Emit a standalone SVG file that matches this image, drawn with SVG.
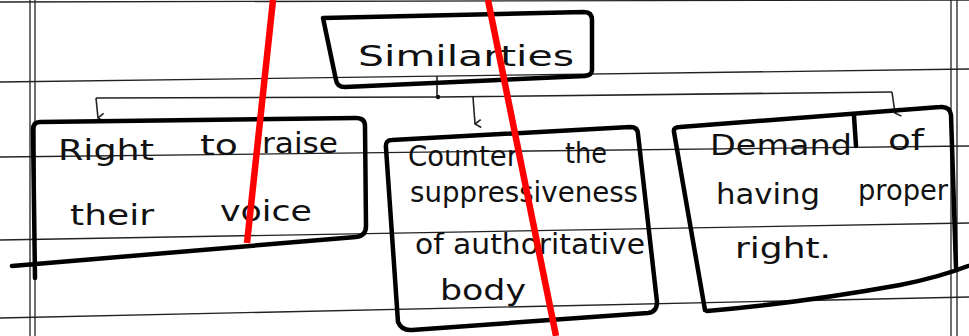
<svg xmlns="http://www.w3.org/2000/svg" width="969" height="336" viewBox="0 0 969 336">
<defs>
<style>
.rule{stroke:#222;stroke-width:1.3;fill:none}
.box{stroke:#000;stroke-width:4.5;fill:none;stroke-linejoin:round;stroke-linecap:round}
.conn{stroke:#222;stroke-width:1.6;fill:none}
.red{stroke:#ff0000;stroke-width:6.5;fill:none}
.hw{font-family:"DejaVu Sans","Liberation Sans",sans-serif;font-size:29px;fill:#111}
</style>
<marker id="arr" viewBox="0 0 10 10" refX="5" refY="9" markerWidth="10" markerHeight="10" markerUnits="userSpaceOnUse" orient="auto-start-reverse">
<path d="M1,3 L5,9 L9,3" fill="none" stroke="#222" stroke-width="1.6"/>
</marker>
</defs>
<rect width="969" height="336" fill="#fff"/>
<g id="ruling">
<path class="rule" d="M0,2 L969,0"/>
<path class="rule" d="M0,82 L969,69"/>
<path class="rule" d="M0,157 L969,146"/>
<path class="rule" d="M0,240 L969,223"/>
<path class="rule" d="M0,318 L969,297"/>
<path class="rule" d="M30,0 L30,336 M35,0 L35,336"/>
<path class="rule" d="M951,0 L951,336 M957,0 L957,336"/>
</g>
<g id="connectors">
<path class="conn" d="M437,76 L437,97"/>
<path class="conn" d="M96,98 L438,97 L892,92"/>
<path class="conn" d="M96,98 L98,118" marker-end="url(#arr)"/>
<path class="conn" d="M473,97 L475,124" marker-end="url(#arr)"/>
<path class="conn" d="M892,92 L895,113" marker-end="url(#arr)"/>
<circle cx="438" cy="97" r="2.2" fill="#111"/>
</g>
<g id="node-similarities">
<path class="box" d="M323,18 L584,12 Q592,12 592,20 L592,70 Q592,75 585,76 L345,87 Q337,87 336,80 Z"/>
<text class="hw" x="358" y="66" textLength="216" lengthAdjust="spacingAndGlyphs" font-size="32">Similarties</text>
</g>
<g id="node-right-to-raise">
<path class="box" d="M12,266 L356,237 Q366,236 366,226 L365,126 Q365,118 356,118 L40,122 Q33,122 33,130 L35,278"/>
<text class="hw" x="58" y="160" textLength="96" lengthAdjust="spacingAndGlyphs">Right</text>
<text class="hw" x="200" y="155" textLength="38" lengthAdjust="spacingAndGlyphs">to</text>
<text class="hw" x="262" y="153" textLength="76" lengthAdjust="spacingAndGlyphs">raise</text>
<text class="hw" x="70" y="225" textLength="84" lengthAdjust="spacingAndGlyphs">their</text>
<text class="hw" x="220" y="221" textLength="92" lengthAdjust="spacingAndGlyphs">voice</text>
</g>
<g id="node-counter">
<path class="box" d="M392,140 L630,127 Q638,127 638,134 L657,302 Q657,312 648,313 L412,330 Q402,331 398,322 L386,148 Q385,140 392,140 Z"/>
<text class="hw" x="408" y="166" textLength="110" lengthAdjust="spacingAndGlyphs">Counter</text>
<text class="hw" x="565" y="163" textLength="42" lengthAdjust="spacingAndGlyphs">the</text>
<text class="hw" x="410" y="202" textLength="228" lengthAdjust="spacingAndGlyphs">suppressiveness</text>
<text class="hw" x="415" y="254" textLength="230" lengthAdjust="spacingAndGlyphs">of authoritative</text>
<text class="hw" x="440" y="300" textLength="86" lengthAdjust="spacingAndGlyphs">body</text>
</g>
<g id="node-demand">
<path class="box" d="M707,311 Q800,303 900,285 Q940,277 968,266"/>
<path class="box" d="M705,310 L674,132 Q673,127 680,127 L940,107 Q950,106 951,115 L956,268"/>
<path class="box" d="M854,116 L856,146" stroke-width="3"/>
<text class="hw" x="710" y="155" textLength="142" lengthAdjust="spacingAndGlyphs">Demand</text>
<text class="hw" x="888" y="150" textLength="36" lengthAdjust="spacingAndGlyphs">of</text>
<text class="hw" x="716" y="204" textLength="104" lengthAdjust="spacingAndGlyphs">having</text>
<text class="hw" x="858" y="200" textLength="90" lengthAdjust="spacingAndGlyphs">proper</text>
<text class="hw" x="735" y="258" textLength="96" lengthAdjust="spacingAndGlyphs">right.</text>
</g>
<g id="marks">
<path class="red" d="M273,0 L247,243"/>
<path class="red" d="M488,0 L556,336"/>
</g>
</svg>
